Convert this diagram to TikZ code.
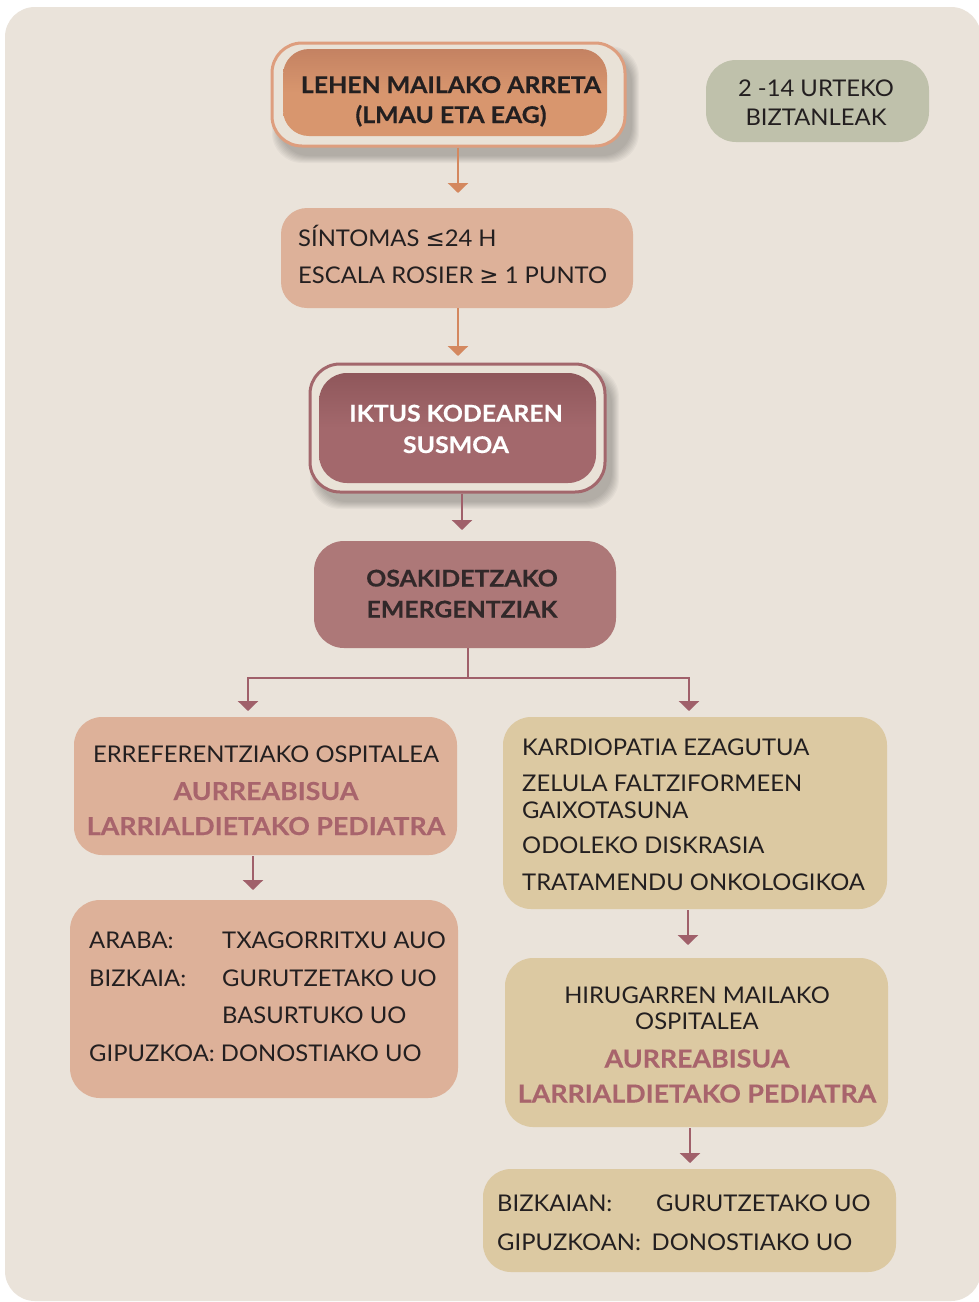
\documentclass[tikz,border=0pt]{standalone}
\usepackage{fontspec}
\setmainfont{Lato}[FakeStretch=1.035, BoldFeatures={FakeStretch=1.08, FakeBold=0.35}]
\newfontfamily\symfont{DejaVu Sans}
\usetikzlibrary{arrows.meta,calc}

\definecolor{pagebg}{HTML}{EAE3DA}
\definecolor{ringfill}{HTML}{E9E2D7}
\definecolor{txt}{HTML}{231F20}
\definecolor{orangeline}{HTML}{D4885F}
\definecolor{orangering}{HTML}{DE9E7E}
\definecolor{orangetop}{HTML}{C48262}
\definecolor{orangebot}{HTML}{D8966E}
\definecolor{peach}{HTML}{DDB199}
\definecolor{mauveline}{HTML}{A0606A}
\definecolor{mauvering}{HTML}{A3676C}
\definecolor{mauvetop}{HTML}{8F575B}
\definecolor{mauvebot}{HTML}{A3686C}
\definecolor{rosebox}{HTML}{AD7878}
\definecolor{pinktxt}{HTML}{A8646C}
\definecolor{sand}{HTML}{DCC9A2}
\definecolor{sage}{HTML}{BFC1AB}

\tikzset{
  panel/.style={rectangle, inner sep=0pt, outer sep=0pt, rounded corners=#1},
  panel/.default=28pt,
  reg/.style={font=\fontsize{23}{27}\selectfont, text=txt, inner sep=0pt},
  bld/.style={font=\fontsize{23}{27}\selectfont\bfseries, text=txt, inner sep=0pt},
  pink/.style={font=\fontsize{24.8}{28}\selectfont\bfseries, text=pinktxt, inner sep=0pt},
  arrO/.style={draw=orangeline, line width=2.7pt, -{Triangle[width=20pt,length=10pt]}},
  arrM/.style={draw=mauveline, line width=2.7pt, -{Triangle[width=20pt,length=10pt]}},
}

\newcommand{\softshadow}[5]{%
  \foreach \k in {0,...,7}{%
    \fill[black, opacity=0.03, rounded corners=#5]
      (#1+7-\k, #2+10-\k) rectangle (#3+7+\k, #4+10+\k);}}

\begin{document}
\begin{tikzpicture}[x=1pt,y=-1pt]
\useasboundingbox (0,0) rectangle (979,1302);
\fill[white] (0,0) rectangle (979,1302);
\fill[pagebg, rounded corners=30pt] (5,7) rectangle (981,1301);

% soft shadows under the two framed boxes
\softshadow{272}{43}{625}{146}{30pt}
\softshadow{310}{364}{605}{492}{30pt}

% framed top box
\node[panel=30pt, draw=orangering, line width=3pt, fill=ringfill,
      minimum width=353pt, minimum height=103pt] (b1ring) at (448.5,94.5) {};
\node[panel=26pt, top color=orangetop, bottom color=orangebot, middle color=orangebot,
      minimum width=324pt, minimum height=87pt] (b1) at (445,92.5) {};
\node[bld, anchor=base] (t1a) at (451,93) {LEHEN MAILAKO ARRETA};
\node[bld, anchor=base] (t1b) at (451,123) {(LMAU ETA EAG)};

% age group
\node[panel=30pt, fill=sage, minimum width=223pt, minimum height=82pt] (bage) at (817.5,101) {};
\node[reg, anchor=base] (tage1) at (816,96.5) {2 -14 URTEKO};
\node[reg, anchor=base] (tage2) at (816,125.5) {BIZTANLEAK};

% symptoms
\node[panel=26pt, fill=peach, minimum width=352pt, minimum height=100pt] (b2) at (457,258) {};
\node[reg, anchor=base west] (t2a) at (298,246.5) {SÍNTOMAS {\symfont ≤}24 H};
\node[reg, anchor=base west] (t2b) at (298,283) {ESCALA ROSIER {\symfont ≥} 1 PUNTO};

% suspected stroke code
\node[panel=30pt, draw=mauvering, line width=3pt, fill=ringfill,
      minimum width=295pt, minimum height=128pt] (b3ring) at (457.5,428) {};
\node[panel=28pt, top color=mauvetop, bottom color=mauvebot, middle color=mauvebot,
      minimum width=277pt, minimum height=110pt] (b3) at (457.5,428) {};
\node[bld, anchor=base, text=white] (t3a) at (456,421.5) {IKTUS KODEAREN};
\node[bld, anchor=base, text=white] (t3b) at (456,453) {SUSMOA};

% emergency service
\node[panel=30pt, fill=rosebox, minimum width=302pt, minimum height=107pt] (b4) at (465,594.5) {};
\node[bld, anchor=base, text=txt!90!rosebox] (t4a) at (462,586.5) {OSAKIDETZAKO};
\node[bld, anchor=base, text=txt!90!rosebox] (t4b) at (462,617.5) {EMERGENTZIAK};

% reference hospital
\node[panel=28pt, fill=peach, minimum width=383pt, minimum height=138pt] (b5) at (265.5,786) {};
\node[reg, anchor=base] (t5a) at (266,762) {ERREFERENTZIAKO OSPITALEA};
\node[pink, anchor=base] (t5b) at (266,800) {AURREABISUA};
\node[pink, anchor=base] (t5c) at (266,835) {LARRIALDIETAKO PEDIATRA};

% hospitals per province
\node[panel=30pt, fill=peach, minimum width=388pt, minimum height=198pt] (b6) at (264,999) {};
\node[reg, anchor=base west] (t6a) at (89,948) {ARABA:};
\node[reg, anchor=base west] (t6b) at (222,948) {TXAGORRITXU AUO};
\node[reg, anchor=base west] (t6c) at (89,986.5) {BIZKAIA:};
\node[reg, anchor=base west] (t6d) at (222,986.5) {GURUTZETAKO UO};
\node[reg, anchor=base west] (t6e) at (222,1023.5) {BASURTUKO UO};
\node[reg, anchor=base west] (t6f) at (89,1061.5) {GIPUZKOA: DONOSTIAKO UO};

% risk factors
\node[panel=28pt, fill=sand, minimum width=384pt, minimum height=192pt] (b7) at (695,813) {};
\node[reg, anchor=base west] (t7a) at (522,755) {KARDIOPATIA EZAGUTUA};
\node[reg, anchor=base west] (t7b) at (522,791.5) {ZELULA FALTZIFORMEEN};
\node[reg, anchor=base west] (t7c) at (522,818) {GAIXOTASUNA};
\node[reg, anchor=base west] (t7d) at (522,853.5) {ODOLEKO DISKRASIA};
\node[reg, anchor=base west] (t7e) at (522,890) {TRATAMENDU ONKOLOGIKOA};

% tertiary hospital
\node[panel=28pt, fill=sand, minimum width=383pt, minimum height=169pt] (b8) at (696.5,1042.5) {};
\node[reg, anchor=base] (t8a) at (697,1003) {HIRUGARREN MAILAKO};
\node[reg, anchor=base] (t8b) at (697,1029.5) {OSPITALEA};
\node[pink, anchor=base] (t8c) at (697,1067.5) {AURREABISUA};
\node[pink, anchor=base] (t8d) at (697,1102.5) {LARRIALDIETAKO PEDIATRA};

% tertiary hospitals per province
\node[panel=28pt, fill=sand, minimum width=413pt, minimum height=103pt] (b9) at (689.5,1220.5) {};
\node[reg, anchor=base west] (t9a) at (497,1211.5) {BIZKAIAN:};
\node[reg, anchor=base west] (t9b) at (656,1211.5) {GURUTZETAKO UO};
\node[reg, anchor=base west] (t9c) at (497,1250) {GIPUZKOAN:\hspace{0.2em} DONOSTIAKO UO};

% connectors
\draw[arrO] ($(b1ring.south)+(9.5,1.5)$) -- ($(b2.north)+(1,-15)$);
\draw[arrO] ($(b2.south)+(1,0)$) -- ($(b3ring.north)+(0.5,-8)$);
\draw[arrM] ($(b3ring.south)+(4.5,1.5)$) -- ($(b4.north)+(-3,-11)$);
\draw[arrM] ($(b4.south)+(3,0)$) -- ++(0,30) -| ($(b5.north)+(-17.5,-6)$);
\draw[arrM] ($(b4.south)+(3,0)$) -- ++(0,30) -| ($(b7.north)+(-6,-6)$);
\draw[arrM] ($(b5.south)+(-12.5,1)$) -- ($(b6.north)+(-11,-10)$);
\draw[arrM] ($(b7.south)+(-7,1)$) -- ($(b8.north)+(-8.5,-13)$);
\draw[arrM] ($(b8.south)+(-6.5,1)$) -- ($(b9.north)+(0.5,-6)$);
\end{tikzpicture}
\end{document}
